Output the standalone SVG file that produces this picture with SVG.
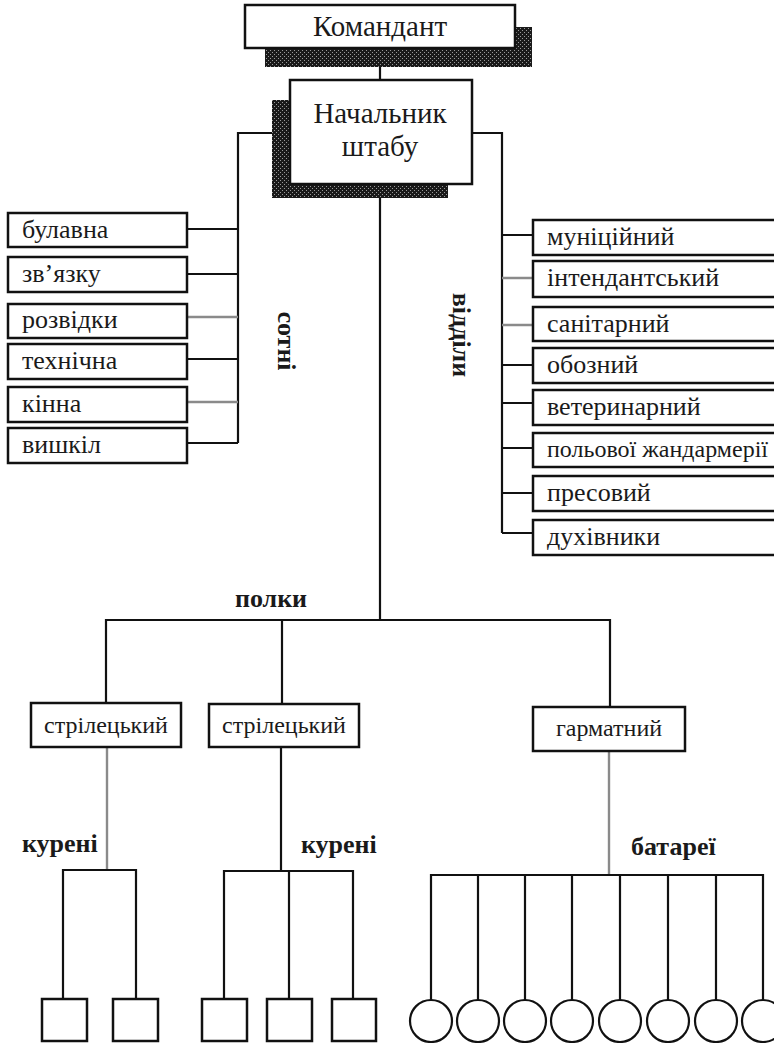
<svg xmlns="http://www.w3.org/2000/svg" width="774" height="1043" viewBox="0 0 774 1043">
<defs>
<pattern id="dither" width="4" height="4" patternUnits="userSpaceOnUse">
<rect width="4" height="4" fill="#1a1a1a"/>
<rect x="0" y="0" width="1" height="1" fill="#9a9a9a"/>
<rect x="2" y="2" width="1" height="1" fill="#9a9a9a"/>
</pattern>
</defs>
<style>
.box{fill:#fff;stroke:#111;stroke-width:2.5}
.sh{fill:url(#dither)}
.t{font-family:"Liberation Serif","Times New Roman",serif;fill:#1a1a1a}
.n{font-size:26px}
.m{font-size:24px}
.big{font-size:29px}
.b{font-family:"Liberation Serif","Times New Roman",serif;font-weight:bold;font-size:26px;fill:#1a1a1a}
.c{text-anchor:middle}
.ln{fill:none;stroke:#111;stroke-width:2.2}
.lg{fill:none;stroke:#8a8a8a;stroke-width:2.4}
.sq{fill:#fff;stroke:#111;stroke-width:2.5}
.ci{fill:#fff;stroke:#111;stroke-width:2.2}
</style>
<rect width="774" height="1043" fill="#fff"/>

<g id="connectors">
<path class="ln" d="M380 67V80"/>
<path class="ln" d="M272 133H238V443"/>
<path class="ln" d="M238 229H187M238 274H187M238 359H187M238 443H187"/>
<path class="lg" d="M238 317H187M238 402H187"/>
<path class="ln" d="M472 133H502V533"/>
<path class="ln" d="M502 235H533M502 365H533M502 403H533M502 448H533M502 493H533M502 533H533"/>
<path class="lg" d="M502 278H533M502 325H533"/>
<path class="ln" d="M380 198V620"/>
<path class="ln" d="M106 703V620H610V707"/>
<path class="ln" d="M282 620V704"/>
<path class="lg" d="M107 747V870"/>
<path class="ln" d="M63 999V870H136V999"/>
<path class="ln" d="M281 747V871"/>
<path class="ln" d="M224 999V871H353V999M289 871V999"/>
<path class="lg" d="M609 751V875"/>
<path class="ln" d="M431 1000V875H763V1000"/>
<path class="ln" d="M478 875V1000M525 875V1000M572 875V1000M620 875V1000M668 875V1000M716 875V1000"/>
</g>

<g id="komandant">
<rect class="sh" x="265" y="27" width="267" height="40"/>
<rect class="box" x="245" y="5" width="270" height="43"/>
<text class="t big c" x="380" y="36">Командант</text>
</g>

<g id="nachalnyk">
<rect class="sh" x="272" y="100" width="176" height="98"/>
<rect class="box" x="290" y="80" width="182" height="104"/>
<text class="t big c" x="380" y="123">Начальник</text>
<text class="t big c" x="380" y="156">штабу</text>
</g>

<g id="sotni-label"><text class="b c" transform="translate(278 341) rotate(90)">сотні</text></g>
<g id="viddily-label"><text class="b c" transform="translate(453 335) rotate(90)">відділи</text></g>

<g id="s1"><rect class="box" x="8" y="213" width="179" height="34"/><text class="t n" x="22" y="238">булавна</text></g>
<g id="s2"><rect class="box" x="8" y="257" width="179" height="35"/><text class="t n" x="22" y="282">зв’язку</text></g>
<g id="s3"><rect class="box" x="8" y="304" width="179" height="34"/><text class="t n" x="22" y="328">розвідки</text></g>
<g id="s4"><rect class="box" x="8" y="344" width="179" height="35"/><text class="t n" x="22" y="369">технічна</text></g>
<g id="s5"><rect class="box" x="8" y="387" width="179" height="35"/><text class="t n" x="22" y="412">кінна</text></g>
<g id="s6"><rect class="box" x="8" y="428" width="179" height="35"/><text class="t n" x="22" y="453">вишкіл</text></g>

<g id="v1"><rect class="box" x="533" y="220" width="260" height="35"/><text class="t n" x="547" y="245">муніційний</text></g>
<g id="v2"><rect class="box" x="533" y="261" width="260" height="36"/><text class="t n" x="547" y="286">інтендантський</text></g>
<g id="v3"><rect class="box" x="533" y="307" width="260" height="34"/><text class="t n" x="547" y="332">санітарний</text></g>
<g id="v4"><rect class="box" x="533" y="348" width="260" height="35"/><text class="t n" x="547" y="373">обозний</text></g>
<g id="v5"><rect class="box" x="533" y="390" width="260" height="35"/><text class="t n" x="547" y="415">ветеринарний</text></g>
<g id="v6"><rect class="box" x="533" y="433" width="260" height="34"/><text class="t m" x="547" y="457">польової жандармерії</text></g>
<g id="v7"><rect class="box" x="533" y="476" width="260" height="35"/><text class="t n" x="547" y="501">пресовий</text></g>
<g id="v8"><rect class="box" x="533" y="520" width="260" height="35"/><text class="t n" x="547" y="545">духівники</text></g>

<g id="polky-label"><text class="b c" x="271" y="607">полки</text></g>

<g id="p1"><rect class="box" x="31" y="703" width="150" height="44"/><text class="t m c" x="106" y="733">стрілецький</text></g>
<g id="p2"><rect class="box" x="209" y="704" width="150" height="43"/><text class="t m c" x="284" y="733">стрілецький</text></g>
<g id="p3"><rect class="box" x="533" y="707" width="152" height="44"/><text class="t m c" x="609" y="736">гарматний</text></g>

<g id="kureni1-label"><text class="b" x="22" y="852">курені</text></g>
<g id="kureni2-label"><text class="b" x="301" y="853">курені</text></g>
<g id="batarei-label"><text class="b" x="631" y="855">батареї</text></g>

<g id="k1"><rect class="sq" x="42" y="999" width="45" height="42"/></g>
<g id="k2"><rect class="sq" x="113" y="999" width="45" height="42"/></g>
<g id="k3"><rect class="sq" x="202" y="999" width="45" height="42"/></g>
<g id="k4"><rect class="sq" x="267" y="999" width="45" height="42"/></g>
<g id="k5"><rect class="sq" x="332" y="999" width="44" height="42"/></g>

<g id="b1"><circle class="ci" cx="431" cy="1021" r="21"/></g>
<g id="b2"><circle class="ci" cx="478" cy="1021" r="21"/></g>
<g id="b3"><circle class="ci" cx="525" cy="1021" r="21"/></g>
<g id="b4"><circle class="ci" cx="572" cy="1021" r="21"/></g>
<g id="b5"><circle class="ci" cx="620" cy="1021" r="21"/></g>
<g id="b6"><circle class="ci" cx="668" cy="1021" r="21"/></g>
<g id="b7"><circle class="ci" cx="716" cy="1021" r="21"/></g>
<g id="b8"><circle class="ci" cx="763" cy="1021" r="21"/></g>
</svg>
